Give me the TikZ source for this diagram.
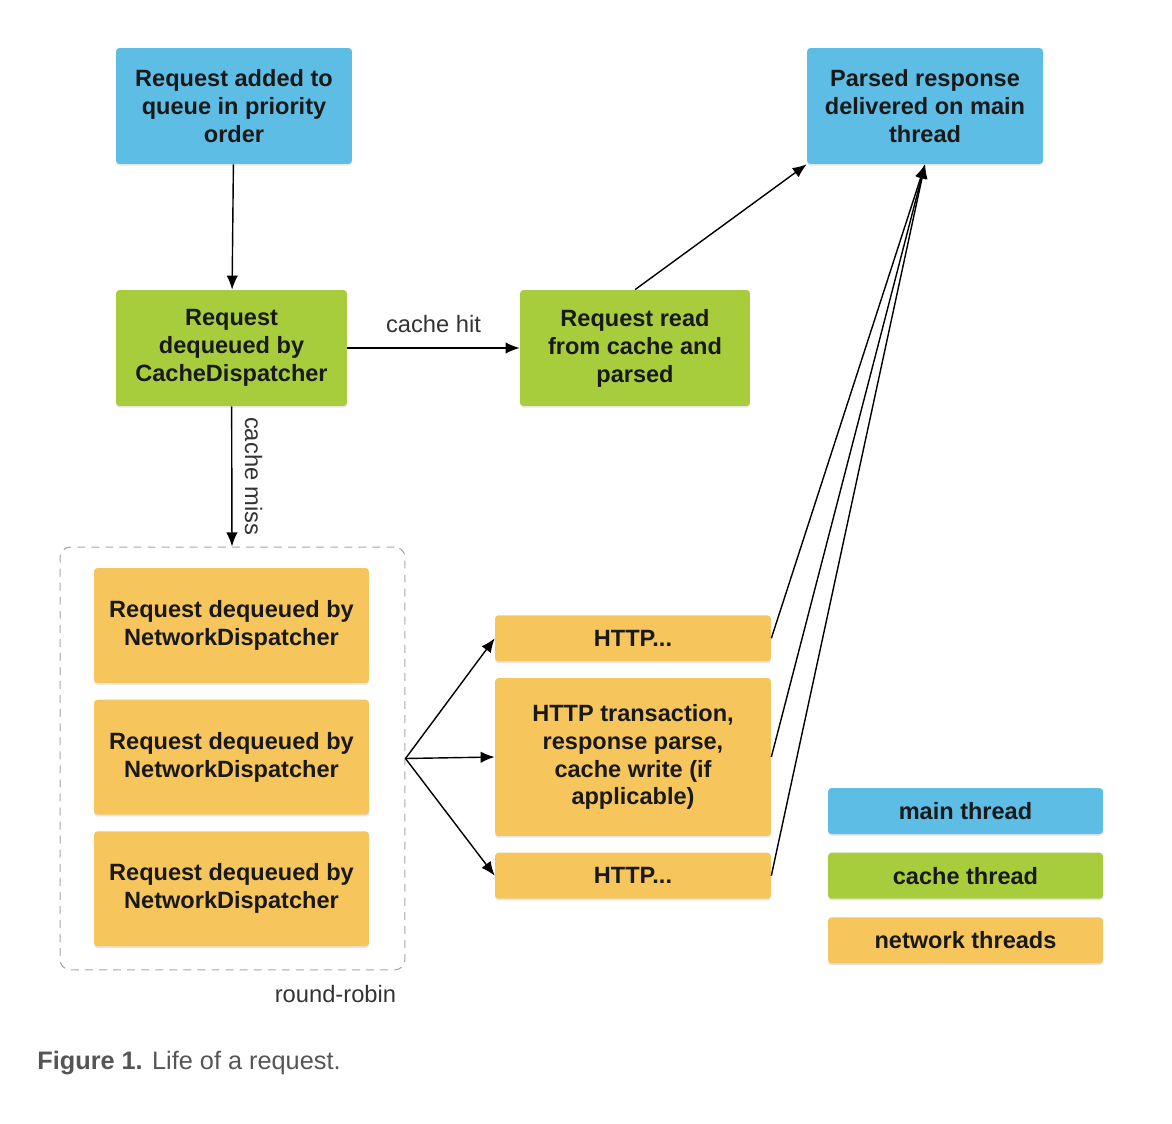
\documentclass[tikz,border=0pt]{standalone}
\usepackage{fontspec}
\setmainfont{Liberation Sans}
\usetikzlibrary{positioning, shadows, arrows.meta}
\definecolor{mainblue}{RGB}{94,189,228}
\definecolor{cachegreen}{RGB}{168,205,60}
\definecolor{netorange}{RGB}{246,198,92}
\definecolor{labelgray}{RGB}{51,51,51}
\definecolor{captiongray}{RGB}{85,85,85}
\tikzset{
	box/.style={rectangle, rounded corners=2pt, inner sep=2pt, align=center, text=black!90,
		font=\bfseries\fontsize{13.4}{15.9}\selectfont,
		drop shadow={shadow xshift=0pt, shadow yshift=-1pt, opacity=0.2}},
	mainbox/.style={box, fill=mainblue},
	cachebox/.style={box, fill=cachegreen},
	netbox/.style={box, fill=netorange},
	% dashed frame round the network dispatchers
	poolbox/.style={draw=black!35, dash pattern=on 4.5pt off 3.5pt, rounded corners=6pt, line width=0.6pt},
	lbl/.style={font=\fontsize{13.5}{16}\selectfont, text=labelgray}
}

\begin{document}
\begin{tikzpicture}[x=0.02cm, y=-0.02cm]
	\useasboundingbox (0,0) rectangle (1172,1124);
	
	\node (queued) [mainbox, minimum width=4.72cm, minimum height=2.32cm] at (234,106) {Request added to\\queue in priority\\order};
	\node (parsed) [mainbox, minimum width=4.72cm, minimum height=2.32cm] at (925,106) {Parsed response\\delivered on main\\thread};
	
	\node (cd) [cachebox, minimum width=4.62cm, minimum height=2.32cm] at (231.5,348) {Request\\dequeued by\\CacheDispatcher};
	\node (read) [cachebox, minimum width=4.6cm, minimum height=2.32cm] at (635,348) {Request read\\from cache and\\parsed};
	
	\node (pool) [poolbox, minimum width=6.9cm, minimum height=8.46cm] at (232.5,758.5) {};
	\node (nd1) [netbox, minimum width=5.5cm, minimum height=2.3cm] at (231.5,625.5) {Request dequeued by\\NetworkDispatcher};
	\node (nd2) [netbox, minimum width=5.5cm, minimum height=2.3cm, below=0.32cm of nd1] {Request dequeued by\\NetworkDispatcher};
	\node (nd3) [netbox, minimum width=5.5cm, minimum height=2.3cm, below=0.32cm of nd2] {Request dequeued by\\NetworkDispatcher};
	\node (rrlabel) [lbl, anchor=north east, inner sep=0pt] at ([xshift=-0.18cm, yshift=-0.28cm]pool.south east) {round-robin};
	
	\node (http2) [netbox, minimum width=5.52cm, minimum height=3.16cm] at (633,757) {HTTP transaction,\\response parse,\\cache write (if\\applicable)};
	\node (http1) [netbox, minimum width=5.52cm, minimum height=0.92cm, above=0.32cm of http2] {HTTP...};
	\node (http3) [netbox, minimum width=5.52cm, minimum height=0.92cm, below=0.32cm of http2] {HTTP...};
	
	% legend
	\node (lmain) [mainbox, minimum width=5.5cm, minimum height=0.92cm] at (965.5,811) {main thread};
	\node (lcache) [cachebox, minimum width=5.5cm, minimum height=0.92cm, below=0.36cm of lmain] {cache thread};
	\node (lnet) [netbox, minimum width=5.5cm, minimum height=0.92cm, below=0.36cm of lcache] {network threads};
	
	\node (caption) [anchor=west, inner sep=0pt, text=captiongray, font=\fontsize{14.4}{17}\selectfont] at (37,1063) {\textbf{Figure 1.} Life of a request.};
	
	\begin{scope}[line width=0.8pt, black, ->, >={Latex[length=8pt, width=6.5pt]}]
		\draw (queued) -- (cd);
		\draw (cd) -- node[lbl, above=5pt] {cache hit} (read);
		\draw (cd) -- node[lbl, rotate=-90, anchor=south, inner sep=7pt] {cache miss} (pool);
		\draw (read.north) -- (parsed.south west);
		\draw (pool.east) -- (http1.west);
		\draw (pool.east) -- (http2.west);
		\draw (pool.east) -- (http3.west);
		\draw (http1.east) -- (parsed.south);
		\draw (http2.east) -- (parsed.south);
		\draw (http3.east) -- (parsed.south);
	\end{scope}
\end{tikzpicture}
\end{document}
